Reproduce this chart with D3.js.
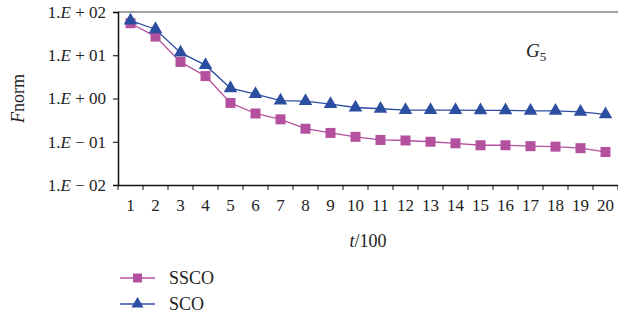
<!DOCTYPE html>
<html>
<head>
<meta charset="utf-8">
<script src="https://cdn.jsdelivr.net/npm/d3@7"></script>
<style>
  body { margin: 0; background: #fff; }
</style>
</head>
<body>
<script>
// iterations (x 100)
var steps = d3.range(1, 21);

// F norm values
var ssco = [55, 27, 7, 3.3, 0.79, 0.45, 0.33, 0.2, 0.16, 0.13,
            0.11, 0.107, 0.1, 0.092, 0.083, 0.083, 0.079, 0.077, 0.071, 0.058];
var sco = [63, 40, 11.5, 5.9, 1.73, 1.26, 0.89, 0.87, 0.74, 0.62,
           0.58, 0.54, 0.54, 0.54, 0.53, 0.53, 0.52, 0.52, 0.49, 0.43];

var yTicks = [100, 10, 1, 0.1, 0.01];
var yTickLabels = ["+ 02", "+ 01", "+ 00", "\u2212 01", "\u2212 02"];

var series = [
  { name: "SSCO", values: ssco, color: "#b3519f", symbol: d3.symbolSquare, size: 100 },
  { name: "SCO", values: sco, color: "#2c4ea0", symbol: d3.symbolTriangle, size: 80 }
];

var W = 618, H = 321;
var margin = { top: 12, right: 0, bottom: 136, left: 118 };
var width = W - margin.left - margin.right,
    height = H - margin.top - margin.bottom;

var svg = d3.select("body").append("svg")
    .attr("width", W)
    .attr("height", H);

var g = svg.append("g")
    .attr("transform", "translate(" + margin.left + "," + margin.top + ")");

var x = d3.scaleBand().domain(steps).range([0, width]);
var y = d3.scaleLog().domain([0.01, 100]).range([height, 0]);

// top border
g.append("line")
    .attr("x1", 0).attr("x2", width)
    .attr("y1", 0).attr("y2", 0)
    .attr("stroke", "#444").attr("stroke-width", 1);

// y axis
var yAxis = g.append("g")
    .call(d3.axisLeft(y).tickValues(yTicks).tickSize(5).tickPadding(7)
      .tickFormat(function() { return ""; }));
yAxis.selectAll(".tick text")
    .html(function(d, i) {
      return '1.<tspan font-style="italic">E</tspan> ' + yTickLabels[i];
    });
yAxis.selectAll("text").style("font-size", "17px");
yAxis.select(".domain").attr("stroke", "#111").attr("stroke-width", 1.5);

// x axis: ticks sit on band edges, labels in the middle
var xAxis = g.append("g")
    .attr("transform", "translate(0," + height + ")")
    .call(d3.axisBottom(x).tickSize(0).tickPadding(14));
xAxis.selectAll("text").style("font-size", "17px");
xAxis.select(".domain").attr("stroke", "#111").attr("stroke-width", 1.5);
xAxis.selectAll(".edge")
    .data(d3.range(0, steps.length + 1))
  .enter().append("line")
    .attr("x1", function(d) { return d * x.step(); })
    .attr("x2", function(d) { return d * x.step(); })
    .attr("y1", 0).attr("y2", 5)
    .attr("stroke", "#111");

// axis titles
svg.append("text")
    .attr("x", margin.left + width / 2)
    .attr("y", 247)
    .attr("text-anchor", "middle")
    .style("font-size", "18px")
    .html('<tspan font-style="italic">t</tspan>/100');

svg.append("text")
    .attr("transform", "translate(24," + (margin.top + height / 2) + ") rotate(-90)")
    .attr("text-anchor", "middle")
    .style("font-size", "18px")
    .html('<tspan font-style="italic">F</tspan>norm');

svg.append("text")
    .attr("x", 526)
    .attr("y", 57)
    .style("font-size", "19px")
    .html('<tspan font-style="italic">G</tspan><tspan dy="4" font-size="13px">5</tspan>');

var line = d3.line()
    .x(function(d, i) { return x(steps[i]) + x.bandwidth() / 2; })
    .y(function(d) { return y(d); });

series.forEach(function(s) {
  g.append("path")
      .datum(s.values)
      .attr("fill", "none")
      .attr("stroke", s.color)
      .attr("stroke-width", 1.3)
      .attr("d", line);

  g.selectAll(".m-" + s.name)
      .data(s.values)
    .enter().append("path")
      .attr("transform", function(d, i) {
        return "translate(" + (x(steps[i]) + x.bandwidth() / 2) + "," + y(d) + ")";
      })
      .attr("d", d3.symbol().type(s.symbol).size(s.size))
      .attr("fill", s.color);
});

// legend
var legend = svg.append("g").attr("transform", "translate(120,278)");
series.forEach(function(s, i) {
  var row = legend.append("g").attr("transform", "translate(0," + (i * 26) + ")");
  row.append("line")
      .attr("x1", 0).attr("x2", 35)
      .attr("stroke", s.color).attr("stroke-width", 1.3);
  row.append("path")
      .attr("transform", "translate(17.5,0)")
      .attr("d", d3.symbol().type(s.symbol).size(s.size * 0.8))
      .attr("fill", s.color);
  row.append("text")
      .attr("x", 49).attr("y", 0).attr("dy", "0.35em")
      .style("font-size", "18px")
      .text(s.name);
});

svg.selectAll("g").attr("font-family", null);
svg.selectAll("text").style("font-family", "'Liberation Serif'").attr("fill", "#222");
</script>
</body>
</html>
